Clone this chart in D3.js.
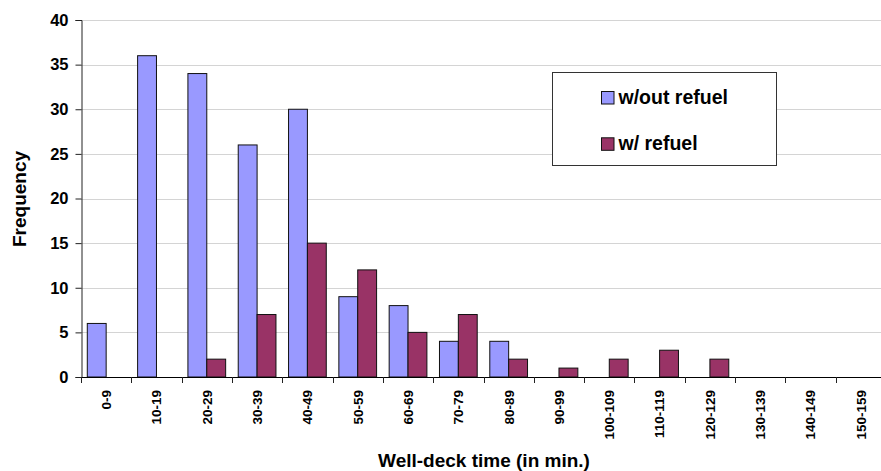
<!DOCTYPE html>
<html>
<head>
<meta charset="utf-8">
<script src="https://cdn.jsdelivr.net/npm/d3@7"></script>
<style>
html, body { margin: 0; padding: 0; background: #fff; overflow: hidden; }
svg { display: block; font-family: "Liberation Sans", Arial, sans-serif; }
</style>
</head>
<body>
<svg id="chart" width="881" height="471"></svg>
<script>
const categories = ["0-9","10-19","20-29","30-39","40-49","50-59","60-69","70-79","80-89","90-99","100-109","110-119","120-129","130-139","140-149","150-159"];
const withoutRefuel = [6, 36, 34, 26, 30, 9, 8, 4, 4, 0, 0, 0, 0, 0, 0, 0];
const withRefuel = [0, 0, 2, 7, 15, 12, 5, 7, 2, 1, 2, 3, 2, 0, 0, 0];
const seriesNames = ["w/out refuel", "w/ refuel"];
const yTicks = [0, 5, 10, 15, 20, 25, 30, 35, 40];

const colors = ["#9999FF", "#993366"];
const svg = d3.select("#chart");
const mLeft = 81, mRight = 886, mTop = 20, mBottom = 377;

const x = d3.scaleBand().domain(categories).range([mLeft, mRight]).paddingInner(0.25).paddingOuter(0.125);
const xs = d3.scaleBand().domain(seriesNames).range([0, x.bandwidth()]);
const y = d3.scaleLinear().domain([0, 40]).range([mBottom, mTop]);
const step = x.step();

// gridlines
svg.append("g").selectAll("line").data(yTicks.filter(d => d > 0)).join("line")
  .attr("x1", mLeft).attr("x2", 881)
  .attr("y1", d => Math.round(y(d)) + 0.5).attr("y2", d => Math.round(y(d)) + 0.5)
  .attr("stroke", "#d4d4d4").attr("stroke-width", 1);

// bars
const series = [withoutRefuel, withRefuel];
series.forEach((vals, si) => {
  svg.append("g").selectAll("rect").data(vals.map((v, i) => ({v, c: categories[i]})).filter(d => d.v > 0)).join("rect")
    .attr("x", d => x(d.c) + xs(seriesNames[si]))
    .attr("y", d => y(d.v))
    .attr("width", xs.bandwidth())
    .attr("height", d => y(0) - y(d.v))
    .attr("fill", colors[si])
    .attr("stroke", "#111").attr("stroke-width", 1);
});

// y axis
const yAxis = d3.axisLeft(y).tickValues(yTicks).tickSize(6).tickPadding(7);
const gy = svg.append("g").attr("transform", `translate(${mLeft + 0.5},0)`).call(yAxis);
gy.select(".domain").attr("stroke", "#222");
gy.selectAll(".tick line").attr("stroke", "#222");
gy.selectAll(".tick text").attr("font-size", 16.5).attr("font-weight", "bold").attr("fill", "#000")
  .attr("font-family", "Liberation Sans, Arial, sans-serif");

// x axis baseline and ticks at category boundaries
const gx = svg.append("g");
gx.append("line").attr("x1", mLeft).attr("x2", 881).attr("y1", mBottom + 0.5).attr("y2", mBottom + 0.5).attr("stroke", "#000");
const boundaries = d3.range(categories.length + 1).map(i => mLeft + i * step);
gx.selectAll("line.tk").data(boundaries).join("line").attr("class", "tk")
  .attr("x1", d => Math.round(d) + 0.5).attr("x2", d => Math.round(d) + 0.5)
  .attr("y1", mBottom).attr("y2", mBottom + 6).attr("stroke", "#222");
gx.selectAll("text").data(categories).join("text")
  .attr("transform", d => `translate(${x(d) + x.bandwidth() / 2},390) rotate(-90)`)
  .attr("text-anchor", "end").attr("dy", "0.36em")
  .attr("font-size", 13.5).attr("font-weight", "bold").attr("fill", "#000")
  .text(d => d);

// axis titles
svg.append("text").attr("transform", "translate(25.5,199) rotate(-90)")
  .attr("text-anchor", "middle").attr("font-size", 19).attr("font-weight", "bold").text("Frequency");
svg.append("text").attr("x", 484).attr("y", 467)
  .attr("text-anchor", "middle").attr("font-size", 19).attr("font-weight", "bold").text("Well-deck time (in min.)");

// legend
const lg = svg.append("g");
lg.append("rect").attr("x", 552.5).attr("y", 72.5).attr("width", 224).attr("height", 93)
  .attr("fill", "#fff").attr("stroke", "#333").attr("stroke-width", 1);
seriesNames.forEach((name, i) => {
  const yy = 91 + i * 46.3;
  lg.append("rect").attr("x", 601.5).attr("y", yy + 0.5).attr("width", 12.5).attr("height", 12.5)
    .attr("fill", colors[i]).attr("stroke", "#111");
  lg.append("text").attr("x", 618.5).attr("y", yy + 13)
    .attr("font-size", 19.5).attr("font-weight", "bold").text(name);
});
</script>
</body>
</html>
